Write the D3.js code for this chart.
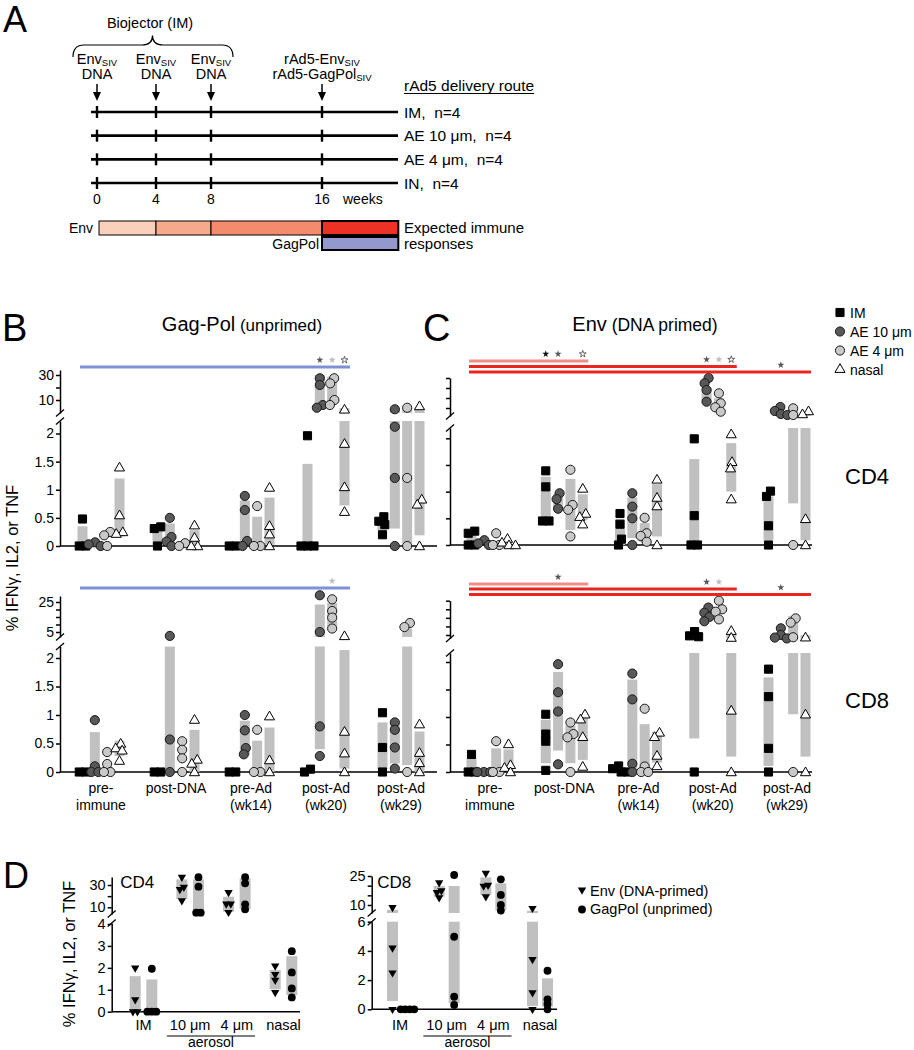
<!DOCTYPE html>
<html>
<head>
<meta charset="utf-8">
<script src="https://cdn.jsdelivr.net/npm/d3@7/dist/d3.min.js"></script>
<style>
  html,body{margin:0;padding:0;background:#fff;}
  svg{display:block;}
  svg text{font-family:"Liberation Sans",Arial,Helvetica,sans-serif;fill:#000;}
</style>
</head>
<body>
<svg id="chart" width="914" height="1050" xmlns="http://www.w3.org/2000/svg"></svg>
<script>
// ================= DATA =================
// Panel A: immunization schedule
const scheduleWeeks = [0, 4, 8, 16];
const scheduleLabels = [
  [["Env", "SIV"], ["DNA", ""]],
  [["Env", "SIV"], ["DNA", ""]],
  [["Env", "SIV"], ["DNA", ""]],
  [["rAd5-Env", "SIV"], ["rAd5-GagPol", "SIV"]]
];
const deliveryRoutes = ["IM,  n=4", "AE 10 μm,  n=4", "AE 4 μm,  n=4", "IN,  n=4"];
const envPhaseWeeks = [0, 4, 8, 16, 21.5];
const gagPhaseWeeks = [16, 21.5];

// Panels B / C
const timepoints = [["pre-", "immune"], ["post-DNA", ""], ["pre-Ad", "(wk14)"], ["post-Ad", "(wk20)"], ["post-Ad", "(wk29)"]];
const routes = ["IM", "AE 10 μm", "AE 4 μm", "nasal"];

// values per timepoint -> per route (IM, AE10, AE4, nasal)
const gagCD4Points = [
  [[0.48, 0, 0], [0.065, 0.03, 0], [0.25, 0.19, 0], [1.40, 0.55, 0.25, 0.22]],
  [[0.34, 0.31, 0], [0.5, 0.16, 0.08, 0], [0.05, 0], [0.37, 0.15, 0, 0]],
  [[0, 0], [0.89, 0.64, 0.09, 0], [0.71, 0, 0], [1.04, 0.36, 0.21, 0]],
  [[1.96, 0, 0, 0], [27.4, 22, 6, 3.8], [27.4, 23.3, 10, 6], [2.5, 1.82, 1.05, 0.61]],
  [[0.52, 0.44, 0.38, 0.2], [2.6, 2.12, 1.21, 0], [3.8, 1.21, 0], [5.2, 0.83, 0.74, 0]]
];
const gagCD4Bars = [
  [[0, 0.35], null, null, [0.17, 1.2]],
  [[0.02, 0.35], [0, 0.4], null, [0, 0.28]],
  [null, [0.02, 0.81], [0.02, 0.52], [0.02, 0.86]],
  [[0, 1.46], [3.3, 30], [8.6, 28.7], [0.72, 3.6]],
  [[0.28, 0.5], [0.31, 3.6], [0.05, 3.6], [0.19, 3.6]]
];
const gagCD8Points = [
  [[0, 0], [0.91, 0.1, 0, 0], [0.35, 0.14, 0, 0], [0.5, 0.42, 0.38, 0.2]],
  [[0, 0], [2.4, 0.57, 0], [0.54, 0.39, 0.24, 0], [0.92, 0.22, 0.15, 0]],
  [[0, 0], [1.0, 0.73, 0.42, 0.31], [0.74, 0, 0], [0.98, 0.21, 0]],
  [[0.05, 0], [29.5, 5, 0.8, 0.28], [26.8, 19, 14.6, 7.3], [2.4, 0.71, 0.33, 0]],
  [[1.04, 0.43, 0], [0.87, 0.74, 0.43, 0.06], [11, 8.3, 0], [0.84, 0.34, 0.16, 0]]
];
const gagCD8Bars = [
  [null, [0, 0.7], null, [0.28, 0.55]],
  [null, [0, 2.2], null, [0, 0.74]],
  [null, [0.3, 0.9], [0, 0.55], [0, 0.78]],
  [null, [0.4, 23.3], [7.9, 24.3], [0.06, 2.14]],
  [[0.05, 0.87], [0.15, 0.84], [0.12, 7.3], [0, 0.71]]
];
const envCD4Points = [
  [[0.26, 0.22, 0, 0], [0.09, 0.03, 0], [0.22, 0, 0], [0.12, 0.05, 0, 0]],
  [[1.39, 1.09, 0.45, 0.45], [0.97, 0.86, 0.68], [1.41, 0.75, 0.66, 0.16], [1.06, 0.59, 0.53, 0.39]],
  [[0.59, 0.39, 0.11, 0], [0.97, 0.72, 0.5, 0], [0.51, 0.22, 0.17, 0.06], [1.23, 0.89, 0.73, 0]],
  [[1.99, 0.55, 0, 0], [40, 34.7, 28, 16.3], [24.7, 14.7, 10.7, 6.3], [2.08, 1.56, 1.44, 0.86]],
  [[1.01, 0.91, 0.36, 0], [11, 7, 4, 3], [9.7, 3, 0], [7, 4, 0.49, 0]]
];
const envCD4Bars = [
  [[0, 0.2], null, null, null],
  [[0.47, 1.28], [0.65, 0.95], [0.28, 1.24], [0.47, 0.95]],
  [[0, 0.48], [0.13, 0.89], [0.05, 0.41], [0.16, 1.14]],
  [[0, 1.61], [14.7, 29.7], [9.7, 19.7], [1.0, 1.91]],
  [[0.09, 0.91], null, [0.78, 8], [0.09, 6]]
];
const envCD8Points = [
  [[0.32, 0, 0], [0, 0, 0], [0.56, 0, 0], [0.51, 0.13, 0.08, 0]],
  [[1.05, 0.69, 0.56, 0.03], [1.96, 1.45, 1.1, 0.14], [0.9, 0.69, 0.63, 0], [1.05, 0.96, 0.64, 0.1]],
  [[0.11, 0.06, 0, 0], [1.79, 1.32, 0.15, 0], [1.15, 0.1, 0, 0], [0.72, 0.64, 0.3, 0.11]],
  [[7, 4.5, 4, 0], [21, 18, 15.5, 13], [25, 20, 18.6, 14.1], [7.5, 3.5, 1.12, 0]],
  [[1.87, 1.37, 0.43, 0], [8.9, 5, 3.5, 3], [14.7, 12.2, 3.7, 0], [3.7, 1.05, 0]]
];
const envCD8Bars = [
  [[0, 0.25], null, [0, 0.43], [0.03, 0.41]],
  [[0.16, 0.95], [0.39, 1.82], [0.16, 0.84], [0.22, 1.0]],
  [null, [0.04, 1.68], [0.04, 0.87], [0.17, 0.73]],
  [[0.61, 4], null, null, [0.28, 5]],
  [[0.11, 1.72], null, [1.05, 16], [0.28, 5]]
];
// significance bars: up to which timepoint, stars (timepoint, routes)
const gagLines = [{to: 3, kind: "gag"}];
const envLines = [{to: 1, kind: "light"}, {to: 3, kind: "red"}, {to: 4, kind: "red"}];
const gagCD4Stars = [{row: 0, tp: 3, routes: [1, 2, 3]}];
const gagCD8Stars = [{row: 0, tp: 3, routes: [2]}];
const envCD4Stars = [{row: 0, tp: 1, routes: [0, 1, 3]}, {row: 1, tp: 3, routes: [1, 2, 3]}, {row: 2, tp: 4, routes: [1]}];
const envCD8Stars = [{row: 0, tp: 1, routes: [1]}, {row: 1, tp: 3, routes: [1, 2]}, {row: 2, tp: 4, routes: [1]}];

// Panel D
const dCategories = ["IM", "10 μm", "4 μm", "nasal"];
const dSeries = ["Env (DNA-primed)", "GagPol (unprimed)"];
const dEnvCD4 = [[2.0, 0.55, 0, 0], [37, 28, 26, 16], [23.4, 13, 13, 5.5], [2.09, 1.7, 1.44, 0.88]];
const dGagCD4 = [[1.96, 0, 0, 0], [37, 28.5, 5.2, 5.2], [37, 31.5, 12.7, 8.2], [2.76, 1.79, 1.06, 0.65]];
const dEnvCD4Bars = [[0, 1.62], [17.5, 35], [6, 19.5], [1.02, 1.9]];
const dGagCD4Bars = [[0, 1.47], [5, 35], [8.5, 36], [0.76, 2.53]];
const dEnvCD8 = [[8.8, 4.2, 2.5, 0], [21.6, 17.4, 16.5, 13.8], [26.5, 20.3, 19.8, 14.3], [8.3, 3.42, 1.14, 0]];
const dGagCD8 = [[0, 0, 0, 0], [25.5, 4.97, 0.86, 0.3], [23.3, 15.2, 10, 7.1], [2.64, 0.68, 0.36, 0]];
const dEnvCD8Bars = [[0.57, 7.5], [14.3, 19.8], [15.2, 24.3], [0.23, 7]];
const dGagCD8Bars = [null, [0.43, 19.8], [7.3, 21.2], [0.18, 2.12]];

// ================= DRAWING =================
const svg = d3.select("#chart");
const INK = "#000";
const BAR = "#c0c0c0";
const COLORS = {gag: "#7d91d8", light: "#f28c87", red: "#ea2620"};
const routeStyle = [
  {fill: "#000", stroke: "#000"},
  {fill: "#585858", stroke: "#1a1a1a"},
  {fill: "#c9c9c9", stroke: "#1a1a1a"},
  {fill: "#fff", stroke: "#000"}
];
const starStyle = [
  {fill: "#111", stroke: "none"},
  {fill: "#555", stroke: "none"},
  {fill: "#bdbdbd", stroke: "none"},
  {fill: "#fff", stroke: "#444"}
];

function dodge(ys, minDist) {
  const n = ys.length;
  const dx = new Array(n).fill(0);
  if (!n) return dx;
  const idx = d3.range(n).sort((a, b) => ys[a] - ys[b]);
  const placed = [];
  for (const i of idx) {
    let off = 0;
    for (let k = 0; k < 400; k++) {
      const cand = k === 0 ? 0 : (k % 2 ? -1 : 1) * Math.ceil(k / 2) * 0.5;
      if (placed.every(j => (cand - dx[j]) ** 2 + (ys[i] - ys[j]) ** 2 >= minDist * minDist)) { off = cand; break; }
    }
    dx[i] = off; placed.push(i);
  }
  const clusters = []; let cur = [idx[0]];
  for (let k = 1; k < n; k++) {
    if (ys[idx[k]] - ys[idx[k - 1]] < minDist) cur.push(idx[k]); else { clusters.push(cur); cur = [idx[k]]; }
  }
  clusters.push(cur);
  clusters.forEach(c => { if (c.length > 1) { const m = d3.mean(c, j => dx[j]); c.forEach(j => dx[j] -= m); } });
  return dx;
}

function brokenScale(cfg) {
  const low = d3.scaleLinear().domain(cfg.lowDom).range(cfg.lowRng);
  const up = d3.scaleLinear().domain(cfg.upDom).range(cfg.upRng);
  const lowMax = low.invert(cfg.lowTop);
  const f = v => v <= lowMax ? low(v) : Math.min(up(v), cfg.upBot);
  return {low, up, lowMax, f};
}

function drawAxis(g, cfg, S, labelSize) {
  const lowAxisScale = S.low.copy().domain([0, S.lowMax]).range([S.low(0), cfg.lowTop]);
  const upAxisScale = S.up.copy().domain([S.up.invert(cfg.upBot), S.up.invert(cfg.upTop)]).range([cfg.upBot, cfg.upTop]);
  const la = d3.axisLeft(lowAxisScale).tickValues(cfg.lowTicks).tickSize(4).tickSizeOuter(0).tickPadding(2)
    .tickFormat(v => cfg.showLabels ? String(v) : "");
  const ua = d3.axisLeft(upAxisScale).tickValues(cfg.upTicks).tickSize(4).tickSizeOuter(0).tickPadding(2)
    .tickFormat(v => cfg.showLabels && cfg.upLabels.includes(v) ? String(v) : "");
  [la, ua].forEach(ax => {
    const a = g.append("g").attr("transform", `translate(${cfg.axisX},0)`).call(ax);
    a.selectAll("path,line").attr("stroke", INK).attr("stroke-width", 1.5);
    a.selectAll("text").attr("font-size", labelSize);
  });
  [cfg.upBot, cfg.lowTop].forEach(y => g.append("line")
    .attr("x1", cfg.axisX - 4).attr("x2", cfg.axisX + 4).attr("y1", y + 3.5).attr("y2", y - 3.5)
    .attr("stroke", INK).attr("stroke-width", 1.3));
  g.append("line").attr("x1", cfg.axisX).attr("x2", cfg.xEnd).attr("y1", cfg.zeroY).attr("y2", cfg.zeroY)
    .attr("stroke", INK).attr("stroke-width", 1.6);
}

function barSegments(b, S, cfg) {
  const [lo, hi] = b;
  const segs = [];
  if (hi <= S.lowMax) segs.push([S.low(hi), S.low(lo)]);
  else if (lo > S.lowMax) segs.push([Math.min(S.up(hi), cfg.upBot), Math.min(S.up(lo), cfg.upBot)]);
  else { segs.push([cfg.lowTop, S.low(lo)]); segs.push([Math.min(S.up(hi), cfg.upBot), cfg.upBot]); }
  return segs.filter(s => s[1] - s[0] > 0.3);
}

// ---------- Panel A ----------
(function () {
  const g = svg.append("g");
  const xw = d3.scaleLinear().domain(scheduleWeeks).range([97, 156, 211, 322]);
  const yr = d3.scalePoint().domain(deliveryRoutes).range([112, 183]);
  g.append("text").attr("x", 3).attr("y", 32).attr("font-size", 36).text("A");
  g.append("path").attr("d", "M73,57 Q73,45 84,45 L142,45 Q152.5,45 152.5,35.5 Q152.5,45 163,45 L222,45 Q233,45 233,57")
    .attr("fill", "none").attr("stroke", INK).attr("stroke-width", 1.2);
  g.append("text").attr("x", 150).attr("y", 28).attr("text-anchor", "middle").attr("font-size", 14.5).text("Biojector (IM)");
  scheduleWeeks.forEach((w, i) => {
    scheduleLabels[i].forEach((ln, j) => {
      const t = g.append("text").attr("x", xw(w)).attr("y", 63.5 + j * 15.5).attr("text-anchor", "middle").attr("font-size", 14.5);
      t.append("tspan").text(ln[0]);
      if (ln[1]) t.append("tspan").attr("font-size", 9.5).attr("dy", 2).text(ln[1]);
    });
    g.append("line").attr("x1", xw(w)).attr("x2", xw(w)).attr("y1", 84).attr("y2", 94).attr("stroke", INK).attr("stroke-width", 1.5);
    g.append("path").attr("d", `M${xw(w) - 4},92L${xw(w) + 4},92L${xw(w)},101Z`).attr("fill", INK);
  });
  deliveryRoutes.forEach(r => {
    const y = yr(r);
    g.append("line").attr("x1", 91).attr("x2", 398).attr("y1", y).attr("y2", y).attr("stroke", INK).attr("stroke-width", 2.6);
    scheduleWeeks.forEach(w => g.append("line").attr("x1", xw(w)).attr("x2", xw(w)).attr("y1", y - 6).attr("y2", y + 6)
      .attr("stroke", INK).attr("stroke-width", 2.4));
    g.append("text").attr("x", 404).attr("y", y + 5.5).attr("font-size", 15.5).style("white-space", "pre").text(r);
  });
  scheduleWeeks.forEach(w => g.append("text").attr("x", xw(w)).attr("y", 204).attr("text-anchor", "middle").attr("font-size", 14).text(w));
  g.append("text").attr("x", 343).attr("y", 204).attr("font-size", 14).text("weeks");
  const hdr = g.append("text").attr("x", 404).attr("y", 91).attr("font-size", 15.5).text("rAd5 delivery route");
  const hw = hdr.node().getComputedTextLength();
  g.append("line").attr("x1", 404).attr("x2", 404 + hw).attr("y1", 93.5).attr("y2", 93.5).attr("stroke", INK).attr("stroke-width", 1.2);
  const envColors = ["#fbd0bb", "#f7aa8b", "#f48b6c", "#ed3124"];
  d3.pairs(envPhaseWeeks).forEach(([a, b], i) => {
    const x0 = xw(a) + (i === 0 ? 2 : 0);
    g.append("rect").attr("x", x0).attr("y", 221).attr("width", xw(b) - x0).attr("height", 14)
      .attr("fill", envColors[i]).attr("stroke", INK).attr("stroke-width", i === 3 ? 2 : 1);
  });
  g.append("rect").attr("x", xw(gagPhaseWeeks[0])).attr("y", 237).attr("width", xw(gagPhaseWeeks[1]) - xw(gagPhaseWeeks[0])).attr("height", 13)
    .attr("fill", "#9499cd").attr("stroke", INK).attr("stroke-width", 2);
  g.append("text").attr("x", 93).attr("y", 233).attr("text-anchor", "end").attr("font-size", 14).text("Env");
  g.append("text").attr("x", 319).attr("y", 248.5).attr("text-anchor", "end").attr("font-size", 14).text("GagPol");
  g.append("text").attr("x", 404).attr("y", 233).attr("font-size", 15).text("Expected immune");
  g.append("text").attr("x", 404).attr("y", 249).attr("font-size", 15).text("responses");
})();

// ---------- Panels B / C ----------
const lowTicksBC = [0, 0.5, 1, 1.5, 2];
const panelsBC = [
  {axisX: 60, xEnd: 437, zeroY: 546, lowDom: [0, 2], lowRng: [546, 433.5], lowTop: 421, upDom: [10, 30], upRng: [400, 375], upTop: 370, upBot: 413,
   lowTicks: lowTicksBC, upTicks: [10, 20, 30], upLabels: [10, 30], showLabels: true, groupRange: [101, 401],
   points: gagCD4Points, bars: gagCD4Bars, lineYs: [367], lines: gagLines, stars: gagCD4Stars, xLabels: false},
  {axisX: 60, xEnd: 437, zeroY: 772, lowDom: [0, 2], lowRng: [772, 658], lowTop: 646.5, upDom: [5, 25], upRng: [632, 602], upTop: 596, upBot: 637,
   lowTicks: lowTicksBC, upTicks: [5, 10, 15, 20, 25], upLabels: [5, 25], showLabels: true, groupRange: [101, 401],
   points: gagCD8Points, bars: gagCD8Bars, lineYs: [588], lines: gagLines, stars: gagCD8Stars, xLabels: true},
  {axisX: 450, xEnd: 812, zeroY: 545, lowDom: [0, 2], lowRng: [545, 438.3], lowTop: 428, upDom: [10, 40], upRng: [408, 378], upTop: 378, upBot: 416,
   lowTicks: lowTicksBC, upTicks: [10, 20, 30, 40], upLabels: [], showLabels: false, groupRange: [490, 787],
   points: envCD4Points, bars: envCD4Bars, lineYs: [361, 366.5, 372], lines: envLines, stars: envCD4Stars, xLabels: false},
  {axisX: 450, xEnd: 812, zeroY: 772, lowDom: [0, 2], lowRng: [772, 662], lowTop: 653, upDom: [5, 25], upRng: [635, 600.7], upTop: 600.7, upBot: 638.5,
   lowTicks: lowTicksBC, upTicks: [5, 10, 15, 20, 25], upLabels: [], showLabels: false, groupRange: [490, 787],
   points: envCD8Points, bars: envCD8Bars, lineYs: [584, 589, 594.5], lines: envLines, stars: envCD8Stars, xLabels: true}
];

const symBC = [
  d3.symbol(d3.symbolSquare, 66),
  d3.symbol(d3.symbolCircle, 66),
  d3.symbol(d3.symbolCircle, 66),
  d3.symbol(d3.symbolTriangle, 44)
];

panelsBC.forEach(cfg => {
  const g = svg.append("g");
  const S = brokenScale(cfg);
  const xg = d3.scalePoint().domain(d3.range(timepoints.length)).range(cfg.groupRange);
  const xr = d3.scalePoint().domain(d3.range(routes.length)).range([-18.5, 18.5]);
  drawAxis(g, cfg, S, 14);
  // bars
  cfg.bars.forEach((grp, gi) => grp.forEach((b, ri) => {
    if (!b) return;
    const cx = xg(gi) + xr(ri);
    barSegments(b, S, cfg).forEach(([y1, y2]) => g.append("rect").attr("x", cx - 5).attr("width", 10)
      .attr("y", y1).attr("height", y2 - y1).attr("fill", BAR));
  }));
  // points
  cfg.points.forEach((grp, gi) => grp.forEach((vals, ri) => {
    const ys = vals.map(S.f);
    const dx = dodge(ys, 6.5);
    vals.forEach((v, k) => {
      g.append("path").attr("d", symBC[ri]())
        .attr("transform", `translate(${xg(gi) + xr(ri) + dx[k]},${ys[k] + (ri === 3 ? 0.8 : 0)})`)
        .attr("fill", routeStyle[ri].fill).attr("stroke", routeStyle[ri].stroke).attr("stroke-width", 1);
    });
  }));
  // significance lines and stars
  cfg.lines.forEach((ln, i) => {
    g.append("line").attr("x1", xg(0) - 21).attr("x2", xg(ln.to) + 24)
      .attr("y1", cfg.lineYs[i]).attr("y2", cfg.lineYs[i]).attr("stroke", COLORS[ln.kind]).attr("stroke-width", 3);
  });
  cfg.stars.forEach(s => s.routes.forEach(ri => {
    g.append("path").attr("d", d3.symbol(d3.symbolStar, 15)())
      .attr("transform", `translate(${xg(s.tp) + xr(ri)},${cfg.lineYs[s.row] - 7})`)
      .attr("fill", starStyle[ri].fill).attr("stroke", starStyle[ri].stroke).attr("stroke-width", 0.8);
  }));
  if (cfg.xLabels) {
    timepoints.forEach((tp, gi) => tp.forEach((ln, j) => {
      if (ln) g.append("text").attr("x", xg(gi)).attr("y", 793 + j * 17).attr("text-anchor", "middle").attr("font-size", 14).text(ln);
    }));
  }
});

// titles and labels for B / C
svg.append("text").attr("x", 2).attr("y", 341).attr("font-size", 38).text("B");
svg.append("text").attr("x", 423).attr("y", 341).attr("font-size", 38).text("C");
(function () {
  const t1 = svg.append("text").attr("x", 242).attr("y", 331).attr("text-anchor", "middle");
  t1.append("tspan").attr("font-size", 20).text("Gag-Pol");
  t1.append("tspan").attr("font-size", 17).text(" (unprimed)");
  const t2 = svg.append("text").attr("x", 645).attr("y", 331).attr("text-anchor", "middle");
  t2.append("tspan").attr("font-size", 20).text("Env");
  t2.append("tspan").attr("font-size", 17.5).text(" (DNA primed)");
  svg.append("text").attr("transform", "translate(18,558) rotate(-90)").attr("text-anchor", "middle").attr("font-size", 16.5)
    .text("% IFNγ, IL2, or TNF");
  svg.append("text").attr("x", 845).attr("y", 484).attr("font-size", 22).text("CD4");
  svg.append("text").attr("x", 845).attr("y", 708).attr("font-size", 22).text("CD8");
  // legend
  const ly = d3.scalePoint().domain(routes).range([318, 375]);
  routes.forEach((r, ri) => {
    const y = ly(r);
    svg.append("path").attr("d", symBC[ri]()).attr("transform", `translate(840,${y - 5.5})`)
      .attr("fill", routeStyle[ri].fill).attr("stroke", routeStyle[ri].stroke).attr("stroke-width", 1);
    svg.append("text").attr("x", 850).attr("y", y).attr("font-size", 14).text(r);
  });
})();

// ---------- Panel D ----------
const panelsD = [
  {axisX: 111.7, xEnd: 300, zeroY: 1011.7, lowDom: [0, 4], lowRng: [1011.7, 924], lowTop: 923, upDom: [10, 30], upRng: [907.3, 885], upTop: 877, upBot: 914,
   lowTicks: [0, 1, 2, 3, 4], upTicks: [10, 20, 30], upLabels: [10, 30], showLabels: true, catRange: [143.5, 283.5], pairOff: 8.3,
   env: dEnvCD4, gag: dGagCD4, envBars: dEnvCD4Bars, gagBars: dGagCD4Bars, title: "CD4", titleDx: 8.5},
  {axisX: 371.7, xEnd: 557, zeroY: 1009.3, lowDom: [0, 6], lowRng: [1009.3, 921.7], lowTop: 921.7, upDom: [10, 25], upRng: [905, 876], upTop: 876, upBot: 913,
   lowTicks: [0, 2, 4, 6], upTicks: [10, 15, 20, 25], upLabels: [10, 25], showLabels: true, catRange: [400, 540], pairOff: 7.5,
   env: dEnvCD8, gag: dGagCD8, envBars: dEnvCD8Bars, gagBars: dGagCD8Bars, title: "CD8", titleDx: 5.5}
];
const triDown = d3.symbol(d3.symbolTriangle, 30);
const dot = d3.symbol(d3.symbolCircle, 48);

panelsD.forEach(cfg => {
  const g = svg.append("g");
  const S = brokenScale(cfg);
  const xc = d3.scalePoint().domain(dCategories).range(cfg.catRange);
  drawAxis(g, cfg, S, 14.5);
  const series = [
    {vals: cfg.env, bars: cfg.envBars, off: -cfg.pairOff, sym: triDown, rot: 180},
    {vals: cfg.gag, bars: cfg.gagBars, off: cfg.pairOff, sym: dot, rot: 0}
  ];
  series.forEach(sr => dCategories.forEach((c, ci) => {
    const b = sr.bars[ci];
    if (!b) return;
    barSegments(b, S, cfg).forEach(([y1, y2]) => g.append("rect").attr("x", xc(c) + sr.off - 5.5).attr("width", 11)
      .attr("y", y1).attr("height", y2 - y1).attr("fill", BAR));
  }));
  series.forEach(sr => dCategories.forEach((c, ci) => {
    const vals = sr.vals[ci];
    const ys = vals.map(S.f);
    const dx = dodge(ys, 4.5);
    vals.forEach((v, k) => g.append("path").attr("d", sr.sym())
      .attr("transform", `translate(${xc(c) + sr.off + dx[k]},${ys[k]}) rotate(${sr.rot})`).attr("fill", INK));
  }));
  const labs = dCategories.map(c => g.append("text").attr("x", xc(c)).attr("y", 1029.5).attr("text-anchor", "middle").attr("font-size", 14.5).text(c));
  const b1 = labs[1].node().getBBox(), b2 = labs[2].node().getBBox();
  g.append("line").attr("x1", b1.x - 3).attr("x2", b2.x + b2.width + 2).attr("y1", 1036).attr("y2", 1036).attr("stroke", INK).attr("stroke-width", 1.2);
  g.append("text").attr("x", (b1.x - 3 + b2.x + b2.width + 2) / 2).attr("y", 1046.5).attr("text-anchor", "middle").attr("font-size", 14).text("aerosol");
  g.append("text").attr("x", cfg.axisX + cfg.titleDx).attr("y", 887.5).attr("font-size", 17).text(cfg.title);
});

svg.append("text").attr("x", 3).attr("y", 888).attr("font-size", 36).text("D");
svg.append("text").attr("transform", "translate(75,954) rotate(-90)").attr("text-anchor", "middle").attr("font-size", 16.5)
  .text("% IFNγ, IL2, or TNF");
// D legend
svg.append("path").attr("d", triDown()).attr("transform", "translate(582,890) rotate(180)").attr("fill", INK);
svg.append("text").attr("x", 590).attr("y", 896).attr("font-size", 14.5).text(dSeries[0]);
svg.append("path").attr("d", dot()).attr("transform", "translate(582,909.5)").attr("fill", INK);
svg.append("text").attr("x", 590).attr("y", 913.5).attr("font-size", 14.5).text(dSeries[1]);
</script>
</body>
</html>
